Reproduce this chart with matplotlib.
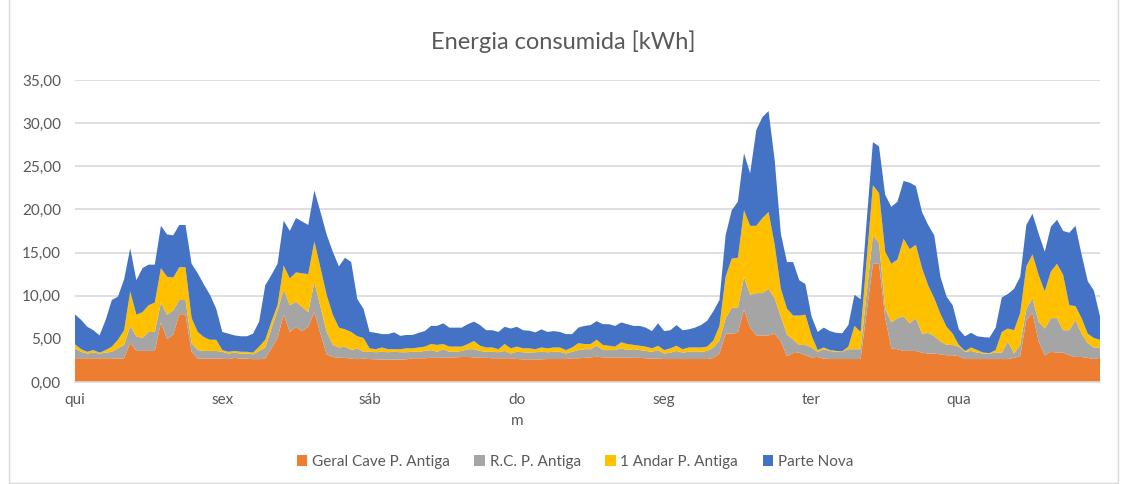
import matplotlib
matplotlib.use('Agg')
import matplotlib.pyplot as plt
import numpy as np
from matplotlib.patches import Rectangle
from matplotlib.ticker import FuncFormatter

# hourly readings, one week (qui .. qua), 24 values per day
day_labels = ["qui", "sex", "sáb", "do\nm", "seg", "ter", "qua"]
series_names = ["Geral Cave P. Antiga", "R.C. P. Antiga", "1 Andar P. Antiga", "Parte Nova"]

geral_cave = [
    2.75, 2.75, 2.75, 2.75, 2.75, 2.75, 2.75, 2.7, 2.75, 4.55, 3.6, 3.6, 3.6, 3.6, 6.9, 4.95, 5.5, 7.85, 7.85, 3.5, 2.7, 2.7, 2.7, 2.7,
    2.7, 2.65, 2.8, 2.7, 2.7, 2.65, 2.65, 2.7, 3.9, 5.1, 7.8, 5.8, 6.4, 5.9, 6.4, 8.1, 5.6, 3.2, 2.9, 2.8, 2.8, 2.7, 2.65, 2.7,
    2.66, 2.63, 2.6, 2.6, 2.6, 2.6, 2.63, 2.75, 2.75, 2.75, 2.8, 2.8, 2.85, 2.85, 2.85, 2.9, 2.9, 2.85, 2.8, 2.8, 2.75, 2.75, 2.75, 2.75,
    2.66, 2.63, 2.63, 2.63, 2.63, 2.66, 2.66, 2.66, 2.66, 2.75, 2.75, 2.8, 2.85, 2.93, 2.85, 2.85, 2.85, 2.85, 2.85, 2.8, 2.8, 2.75, 2.7, 2.7,
    2.66, 2.66, 2.66, 2.66, 2.66, 2.66, 2.66, 2.66, 2.8, 3.3, 5.6, 5.6, 5.7, 8.4, 6.3, 5.4, 5.4, 5.4, 5.6, 4.7, 3.0, 3.35, 3.4, 3.1,
    2.85, 2.9, 2.7, 2.66, 2.66, 2.66, 2.66, 2.66, 2.66, 8.2, 13.7, 13.7, 7.5, 3.9, 3.8, 3.6, 3.6, 3.6, 3.4, 3.3, 3.3, 3.2, 3.1, 3.1,
    3.0, 2.66, 2.66, 2.66, 2.66, 2.66, 2.66, 2.66, 2.66, 2.8, 3.0, 7.2, 8.0, 4.7, 3.1, 3.5, 3.4, 3.4, 3.1, 2.9, 2.9, 2.8, 2.66, 2.8,
]
rc_antiga = [
    1.15, 0.75, 0.55, 0.65, 0.55, 0.65, 0.75, 1.2, 1.55, 1.95, 1.7, 1.5, 2.2, 2.2, 2.3, 2.85, 2.8, 1.65, 1.65, 1.0, 1.0, 0.9, 0.9, 0.9,
    0.8, 0.65, 0.6, 0.6, 0.6, 0.55, 0.95, 1.3, 2.3, 3.2, 2.9, 3.1, 2.9, 2.8, 1.7, 3.5, 3.1, 2.6, 1.4, 1.2, 1.3, 1.0, 1.25, 0.8,
    0.84, 0.82, 0.9, 0.85, 0.9, 0.85, 0.82, 0.75, 0.75, 0.85, 0.9, 0.7, 0.95, 0.65, 0.65, 0.7, 0.9, 0.95, 0.8, 0.7, 0.75, 0.7, 0.85, 0.55,
    0.84, 0.82, 0.77, 0.82, 0.87, 0.79, 0.84, 0.84, 0.64, 0.75, 0.95, 1.0, 0.95, 1.27, 0.85, 0.85, 0.85, 1.05, 0.85, 1.0, 0.9, 0.85, 0.8, 1.0,
    0.64, 0.74, 0.94, 0.74, 0.84, 0.89, 0.84, 0.94, 1.2, 1.5, 1.8, 3.0, 2.9, 3.8, 3.8, 4.9, 4.9, 5.4, 4.1, 2.9, 2.5, 1.55, 0.9, 1.2,
    1.15, 0.6, 1.1, 0.94, 0.84, 0.84, 1.14, 1.14, 1.14, 2.2, 3.3, 2.4, 1.0, 3.0, 3.6, 4.0, 3.2, 3.8, 2.2, 2.4, 2.0, 1.5, 1.2, 1.2,
    1.1, 0.84, 0.94, 0.74, 0.64, 0.64, 0.74, 0.74, 2.04, 0.5, 1.3, 1.3, 1.7, 2.3, 3.1, 3.9, 4.0, 2.6, 2.9, 4.3, 2.7, 1.7, 1.34, 1.2,
]
andar_1 = [
    0.46, 0.3, 0.2, 0.3, 0.1, 0.3, 0.6, 1.0, 1.7, 4.0, 2.5, 3.0, 3.1, 3.4, 4.0, 4.4, 3.8, 3.8, 3.8, 2.9, 2.1, 1.6, 1.3, 1.3,
    0.2, 0.2, 0.2, 0.2, 0.2, 0.2, 0.5, 0.9, 0.8, 0.6, 2.8, 3.1, 3.4, 3.9, 4.4, 4.7, 4.5, 4.3, 3.5, 2.3, 2.0, 2.1, 1.4, 1.6,
    0.4, 0.35, 0.5, 0.35, 0.3, 0.35, 0.45, 0.4, 0.5, 0.5, 0.7, 0.8, 0.6, 0.6, 0.6, 0.5, 0.6, 0.95, 0.6, 0.5, 0.5, 0.35, 0.8, 0.6,
    0.6, 0.45, 0.5, 0.35, 0.5, 0.45, 0.5, 0.5, 0.4, 0.5, 0.8, 0.6, 0.6, 0.7, 0.6, 0.5, 0.4, 0.7, 0.7, 0.5, 0.5, 0.5, 0.4, 0.5,
    0.4, 0.5, 0.6, 0.4, 0.5, 0.45, 0.5, 0.5, 0.8, 1.7, 4.8, 5.7, 5.8, 7.7, 8.0, 7.8, 8.7, 8.9, 6.2, 3.2, 3.0, 2.8, 3.4, 3.5,
    1.4, 0.2, 0.2, 0.1, 0.1, 0.05, 0.3, 2.7, 2.0, 3.9, 5.8, 5.8, 6.6, 6.8, 6.8, 9.0, 8.6, 8.5, 7.6, 5.5, 4.4, 3.2, 2.1, 1.3,
    0.2, 0.1, 0.4, 0.3, 0.1, 0.05, 0.3, 2.4, 1.5, 2.7, 3.7, 4.9, 5.1, 5.4, 4.3, 5.4, 6.3, 6.4, 2.9, 1.6, 1.8, 1.1, 1.1, 0.9,
]
parte_nova = [
    3.48, 3.4, 2.9, 2.3, 2.0, 3.5, 5.4, 5.0, 5.9, 5.0, 4.0, 5.1, 4.7, 4.4, 4.9, 4.9, 4.9, 4.9, 4.9, 6.3, 6.8, 6.1, 5.2, 3.6,
    2.1, 2.1, 1.8, 1.8, 1.8, 2.2, 2.9, 6.3, 5.4, 4.8, 5.2, 5.5, 6.3, 6.0, 5.7, 5.9, 6.5, 7.0, 7.3, 7.1, 8.3, 8.1, 4.3, 3.4,
    1.9, 1.9, 1.55, 1.75, 1.95, 1.55, 1.55, 1.55, 1.7, 1.8, 2.1, 2.2, 2.4, 2.2, 2.2, 2.2, 2.3, 2.25, 2.4, 2.0, 2.0, 2.0, 2.0, 2.3,
    2.3, 2.1, 2.05, 1.95, 2.1, 1.9, 1.9, 1.8, 1.85, 1.55, 1.8, 2.1, 2.2, 2.15, 2.4, 2.5, 2.4, 2.3, 2.3, 2.2, 2.3, 2.2, 2.0, 2.6,
    2.2, 2.1, 2.4, 2.2, 2.1, 2.3, 2.6, 3.0, 3.4, 3.0, 4.8, 5.6, 6.5, 6.6, 6.1, 11.1, 11.7, 11.7, 9.8, 6.4, 5.4, 6.2, 4.1, 3.55,
    2.2, 2.1, 2.3, 2.2, 2.1, 2.1, 2.5, 3.6, 3.8, 4.5, 5.0, 5.4, 6.6, 6.6, 6.7, 6.7, 7.7, 6.8, 6.5, 7.0, 7.3, 4.3, 3.5, 3.3,
    1.8, 1.7, 1.7, 1.6, 1.8, 1.8, 2.6, 4.0, 4.0, 4.8, 4.2, 4.8, 4.7, 4.8, 4.6, 5.2, 5.1, 5.1, 8.4, 9.3, 7.4, 6.1, 5.5, 2.7,
]

colors = ["#ED7D31", "#A5A5A5", "#FFC000", "#4472C4"]
text_color = "#595959"
grid_color = "#D9D9D9"

plt.rcParams['font.family'] = ['Lato', 'DejaVu Sans']

hours = np.arange(len(geral_cave))

fig = plt.figure(figsize=(11.27, 4.84), dpi=100)
ax = fig.add_axes([75 / 1127, 102 / 484, 1025 / 1127, 302 / 484])

ax.stackplot(hours, geral_cave, rc_antiga, andar_1, parte_nova,
             colors=colors, labels=series_names, linewidth=0, zorder=2)

ax.set_xlim(0, len(hours) - 1)
ax.set_ylim(0, 35)
ax.set_yticks(np.arange(0, 36, 5))
ax.yaxis.set_major_formatter(FuncFormatter(lambda v, p: f"{v:.2f}".replace('.', ',')))
ax.grid(axis='y', color=grid_color, linewidth=1.2, zorder=0)
ax.set_axisbelow(True)

ax.set_xticks(np.arange(0, len(hours), 24))
ax.set_xticklabels(day_labels, linespacing=1.6)

for side in ['top', 'right', 'left']:
    ax.spines[side].set_visible(False)
ax.spines['bottom'].set_color(grid_color)
ax.spines['bottom'].set_linewidth(1.2)
ax.tick_params(axis='both', length=0, colors=text_color, labelsize=11)
ax.tick_params(axis='y', pad=10)
ax.tick_params(axis='x', pad=8)
for lbl in ax.get_xticklabels():
    lbl.set_verticalalignment('top')

fig.text(0.5, 1 - 42 / 484, "Energia consumida [kWh]", ha='center', va='center',
         fontsize=17, color=text_color)

handles, labels = ax.get_legend_handles_labels()
fig.legend(handles, labels, loc='center', bbox_to_anchor=(575 / 1127, 1 - 462 / 484),
           ncol=4, frameon=False, fontsize=11, handlelength=0.7, handleheight=0.7,
           handletextpad=0.3, columnspacing=1.6, labelcolor=text_color)

# chart area border
fig.patches.append(Rectangle((9 / 1127, 1 / 484), 1109 / 1127, 1.1, transform=fig.transFigure,
                             fill=False, edgecolor=grid_color, linewidth=1.0))

fig.savefig("out.png", dpi=100)
